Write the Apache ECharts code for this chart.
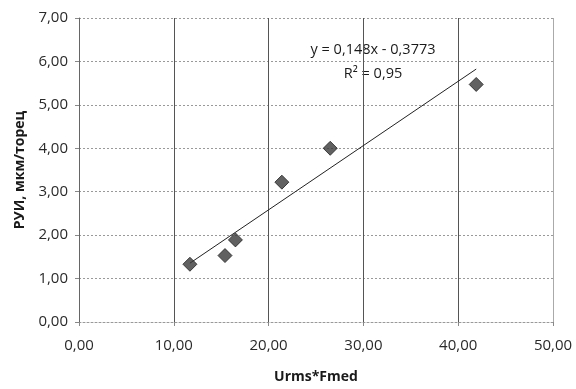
<!DOCTYPE html>
<html>
<head>
<meta charset="utf-8">
<script src="https://cdn.jsdelivr.net/npm/echarts@6/dist/echarts.min.js"></script>
<style>
html,body{margin:0;padding:0;background:#fff;}
#chart{width:576px;height:389px;}
</style>
</head>
<body>
<div id="chart"></div>
<script>
var xValues = [11.7, 15.4, 16.5, 21.4, 26.5, 41.9];
var yValues = [1.33, 1.53, 1.89, 3.22, 4.00, 5.47];
var trendSlope = 0.148;
var trendIntercept = -0.3773;
var trendLabel = 'y = 0,148x - 0,3773';
var r2Label = 'R² = 0,95';
var xAxisTitle = 'Urms*Fmed';
var yAxisTitle = 'РУИ, мкм/торец';

var points = xValues.map(function (x, i) { return [x, yValues[i]]; });
var xMin = Math.min.apply(null, xValues), xMax = Math.max.apply(null, xValues);
var trend = [[xMin, trendSlope * xMin + trendIntercept], [xMax, trendSlope * xMax + trendIntercept]];
function fmt(v) { return v.toFixed(2).replace('.', ','); }
var FONT = '"Open Sans", sans-serif';

var chart = echarts.init(document.getElementById('chart'));
chart.setOption({
  animation: false,
  backgroundColor: '#fff',
  grid: { left: 79, right: 23, top: 18, bottom: 67 },
  xAxis: {
    type: 'value', min: 0, max: 50, interval: 10,
    name: xAxisTitle, nameLocation: 'middle', nameGap: 48,
    nameTextStyle: { fontFamily: FONT, fontSize: 14, fontWeight: 'bold', color: '#1a1a1a' },
    axisLine: { show: true, lineStyle: { color: '#999', type: [2, 2], width: 1 } },
    axisTick: { show: true, length: 4, lineStyle: { color: '#888' } },
    axisLabel: { formatter: fmt, margin: 16, fontFamily: FONT, fontSize: 15, color: '#2a2a2a' },
    splitLine: { show: true, lineStyle: { color: ['#555', '#555', '#555', '#555', '#555', '#aaa'], width: 1 } }
  },
  yAxis: {
    type: 'value', min: 0, max: 7, interval: 1,
    name: yAxisTitle, nameLocation: 'middle', nameGap: 52,
    nameTextStyle: { fontFamily: FONT, fontSize: 14, fontWeight: 'bold', color: '#1a1a1a' },
    axisLine: { show: true, lineStyle: { color: '#666', width: 1 } },
    axisTick: { show: true, length: 4, lineStyle: { color: '#888' } },
    axisLabel: { formatter: fmt, margin: 11, fontFamily: FONT, fontSize: 15, color: '#2a2a2a' },
    splitLine: { show: true, lineStyle: { color: '#999', type: [2, 2], width: 1 } }
  },
  series: [
    {
      type: 'line', data: trend, showSymbol: false, symbol: 'none',
      lineStyle: { color: '#222', width: 1 }, z: 3
    },
    {
      type: 'scatter', data: points, symbol: 'diamond', symbolSize: 14,
      itemStyle: { color: '#3a3a3a', borderColor: '#222', borderWidth: 1 }, z: 4
    }
  ],
  graphic: [
    { type: 'text', style: { x: 373, y: 50, text: trendLabel, fontFamily: FONT, fontSize: 14.5, fill: '#1a1a1a', align: 'center', verticalAlign: 'middle' } },
    { type: 'text', style: { x: 373, y: 74, text: r2Label, fontFamily: FONT, fontSize: 14.5, fill: '#1a1a1a', align: 'center', verticalAlign: 'middle' } }
  ]
});
</script>
</body>
</html>
